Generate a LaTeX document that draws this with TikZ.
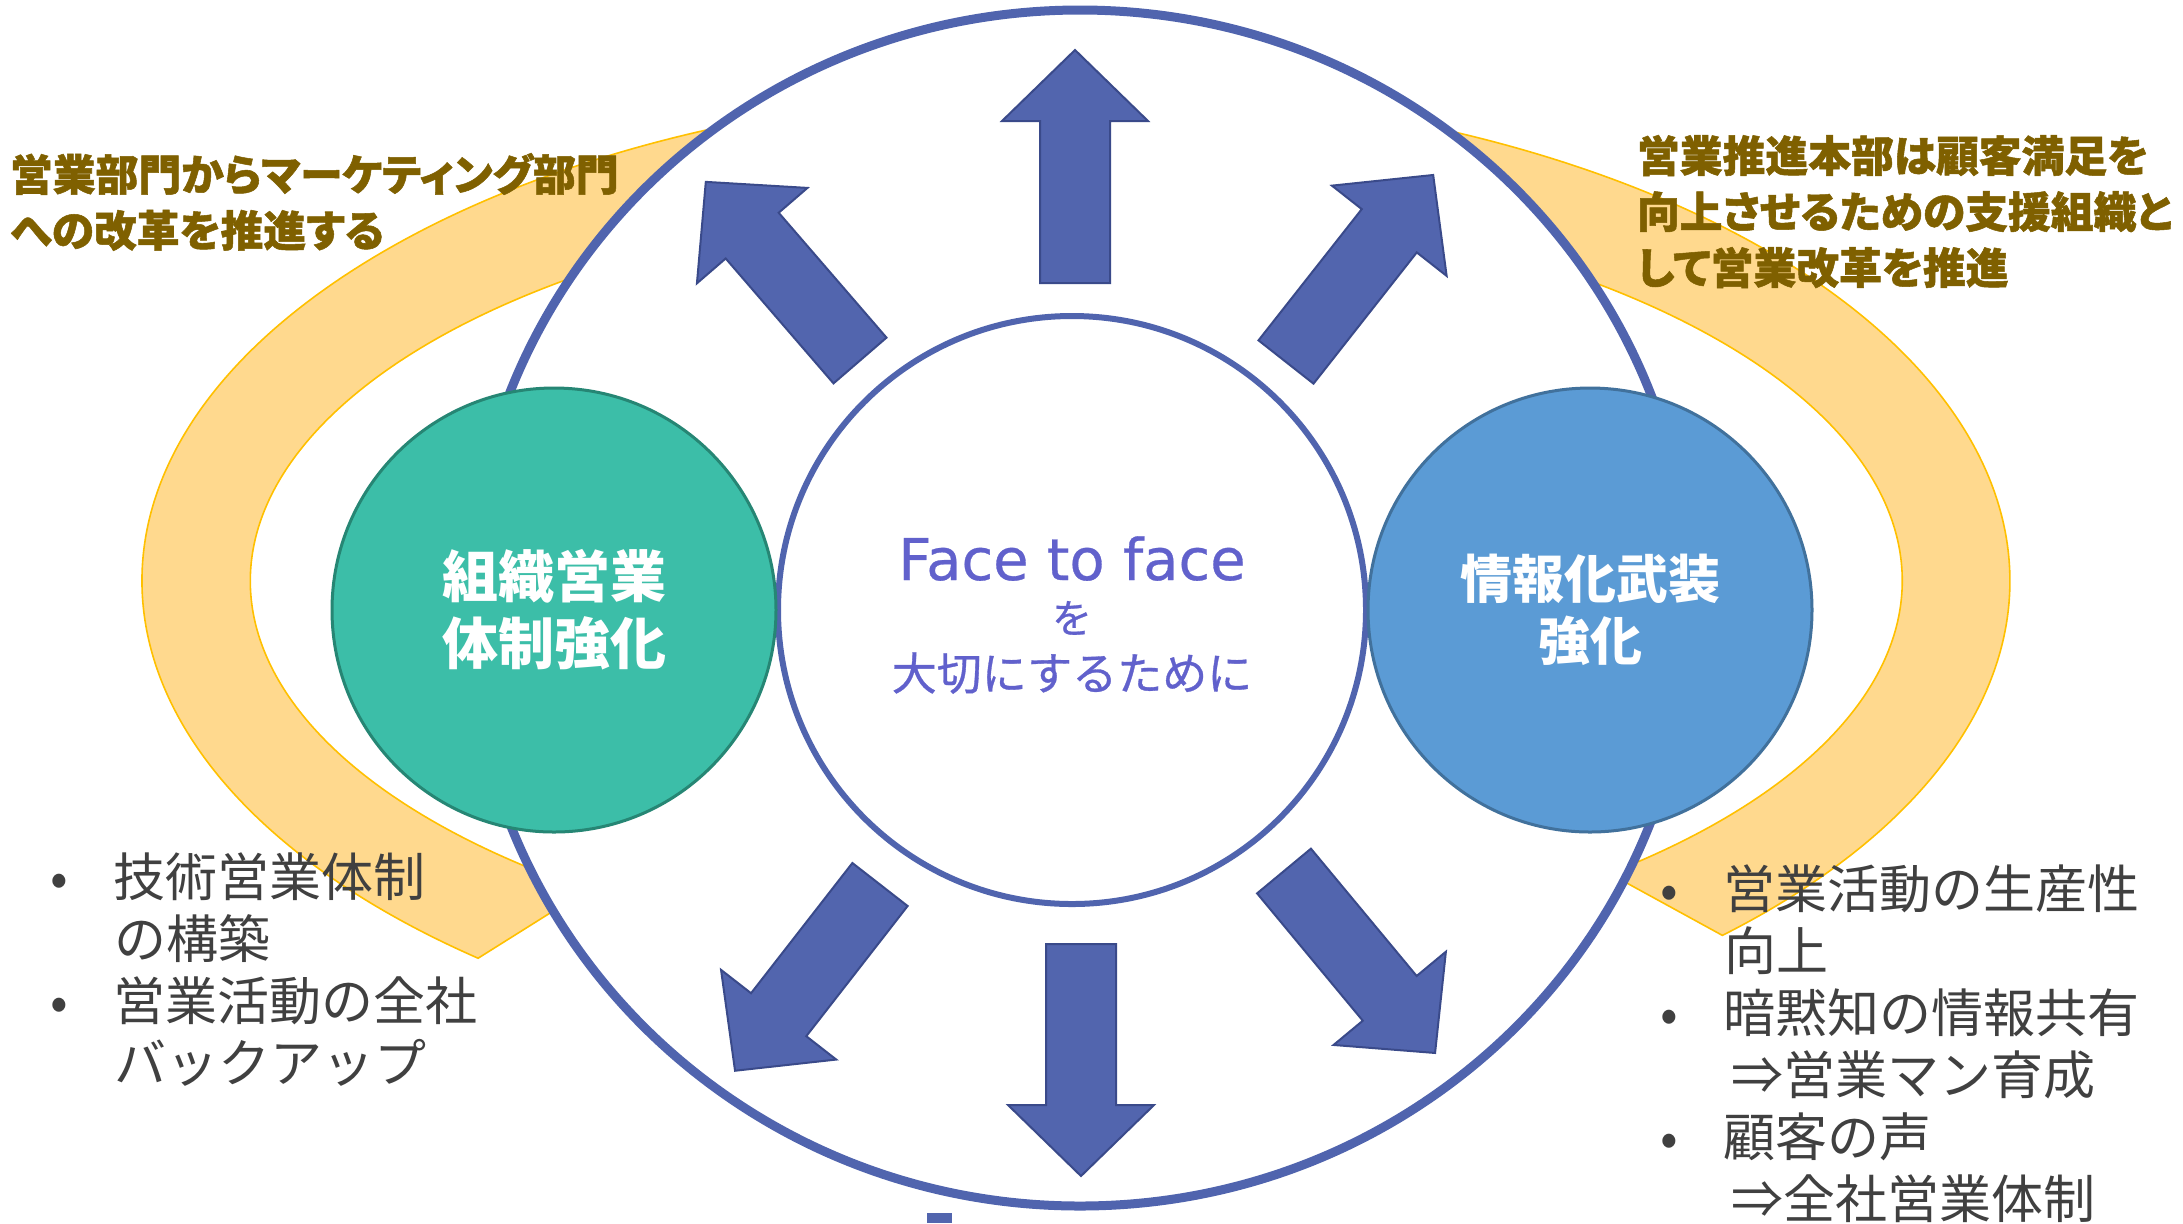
\documentclass[tikz,border=0pt]{standalone}
\usepackage{fontspec}
\setmainfont{Noto Sans CJK JP}
\newfontfamily\jpprop{Noto Sans CJK JP}[RawFeature=+palt, BoldFeatures={FakeBold=1.2}]
\newfontfamily\jpmed{Noto Sans CJK JP}[FakeBold=0.7]
\newfontfamily\latinf{DejaVu Sans}[FakeBold=0.5]
\usetikzlibrary{shapes.geometric}
\definecolor{arrowblue}{RGB}{82,101,174}
\definecolor{arrowedge}{RGB}{58,74,138}
\definecolor{ringblue}{RGB}{80,100,174}
\definecolor{bandfill}{RGB}{255,217,142}
\definecolor{bandedge}{RGB}{255,192,0}
\definecolor{greenfill}{RGB}{60,190,168}
\definecolor{greenedge}{RGB}{38,134,116}
\definecolor{bluefill}{RGB}{91,155,213}
\definecolor{blueedge}{RGB}{65,113,156}
\definecolor{browntext}{RGB}{127,96,0}
\definecolor{graytext}{RGB}{64,64,64}
\definecolor{centertext}{RGB}{97,97,204}
\newcommand\blkarrow[4]{%
  \draw[arrowsty, shift={(#1,#2)}, rotate=#3]
    (0,-35) -- (#4-71,-35) -- (#4-71,-73) -- (#4,0) -- (#4-71,73) -- (#4-71,35) -- (0,35) -- cycle;}
\tikzset{
  arrowsty/.style={fill=arrowblue, draw=arrowedge, line width=1pt, line join=miter},
  bandsty/.style={fill=bandfill, draw=bandedge, line width=0.8pt},
  txt/.style={inner sep=0pt, outer sep=0pt},
  browntitle/.style={txt, text=browntext, align=left, anchor=north west,
    font=\jpprop\bfseries\fontsize{21.4pt}{28pt}\selectfont},
  bullets/.style={txt, text=graytext, align=left, anchor=north west,
    font=\fontsize{26pt}{31pt}\selectfont},
  bigring/.style={ellipse, draw=ringblue, fill=white, line width=4.5pt, inner sep=0pt},
  innerring/.style={circle, draw=ringblue, fill=white, line width=3pt, inner sep=0pt},
  topicball/.style={circle, line width=1.5pt, inner sep=0pt, text=white, align=center}
}
\begin{document}
\begin{tikzpicture}[x=0.5pt, y=-0.5pt]
\useasboundingbox (0,0) rectangle (2183,1223);
\fill[white] (0,0) rectangle (2183,1223);
% band (elliptic block arc)
\path[bandsty] (478.1,958.2) arc[start angle=129.8, end angle=406.2, x radius=934, y radius=491]
  -- (1609.4,873.5) arc[start angle=409.8, end angle=126.3, x radius=826, y radius=383] -- cycle;
% outer ring
\node[bigring, minimum width=611pt, minimum height=598pt] (outer) at (1080,608) {};
% arrows
\blkarrow{1075}{283}{90}{233}
\blkarrow{1081}{944}{270}{232}
\blkarrow{860}{360.5}{130.8}{236}
\blkarrow{1286}{362}{51.8}{238}
\blkarrow{880}{884.5}{232.1}{236}
\blkarrow{1284}{871}{-50.3}{236.5}
\fill[arrowblue] (927,1213) rectangle (952,1223);
% inner ring
\node[innerring, minimum size=294pt] (inner) at (1072,610) {};
% side balls
\node[topicball, minimum size=222pt, fill=greenfill, draw=greenedge,
  font=\bfseries\fontsize{28pt}{33.5pt}\selectfont] (green) at (554,610) {組織営業\\体制強化};
\node[topicball, minimum size=222pt, fill=bluefill, draw=blueedge,
  font=\bfseries\fontsize{26pt}{31pt}\selectfont] (blue) at (1590,610) {情報化武装\\強化};
% center texts
\node[txt, text=centertext, anchor=base, font=\latinf\fontsize{28.8pt}{30pt}\selectfont] (c1) at (1072,580) {Face to face};
\node[txt, text=centertext, anchor=base, font=\jpmed\fontsize{20pt}{22pt}\selectfont] (c2) at (1072,633) {を};
\node[txt, text=centertext, anchor=base, font=\jpmed\fontsize{22.5pt}{25pt}\selectfont] (c3) at (1072,690) {大切にするために};
% titles
\node[browntitle] (ltitle) at (10,153) {営業部門からマーケティング部門\\への改革を推進する};
\node[browntitle] (rtitle) at (1637,135) {営業推進本部は顧客満足を\\向上させるための支援組織と\\して営業改革を推進};
% bullets
\node[bullets] (lbul) at (50,853) {\makebox[32pt][l]{•}技術営業体制\\\makebox[32pt]{}の構築\\\makebox[32pt][l]{•}営業活動の全社\\\makebox[32pt]{}バックアップ};
\node[bullets] (rbul) at (1660,865) {\makebox[32pt][l]{•}営業活動の生産性\\\makebox[32pt]{}向上\\\makebox[32pt][l]{•}暗黙知の情報共有\\\makebox[35.5pt]{}⇒営業マン育成\\\makebox[32pt][l]{•}顧客の声\\\makebox[35.5pt]{}⇒全社営業体制};
\end{tikzpicture}
\end{document}
